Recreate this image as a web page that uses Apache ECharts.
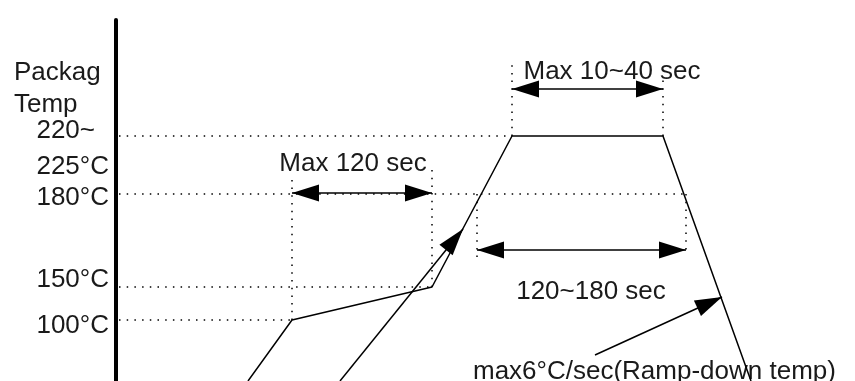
<!DOCTYPE html>
<html>
<head>
<meta charset="utf-8">
<script src="https://cdn.jsdelivr.net/npm/echarts@6/dist/echarts.min.js"></script>
<style>
html, body { margin: 0; padding: 0; background: #fff; }
#chart_1 { width: 855px; height: 381px; }
</style>
</head>
<body>
<div id="chart_1"></div>
<script>
var Chart_1 = echarts.init(document.getElementById('chart_1'));

// reflow profile, schematic units (not to scale)
var profileX = [132, 176, 316, 396, 547, 635];
var profileY = [0, 61, 94, 245, 245, 0];

// temperature levels on the y axis
var tempLevels = [61, 94, 187, 245];
var tempLabels = ['100°C', '150°C', '180°C', '220~\n225°C'];
var levelEndX  = [176, 316, 568, 396];

// vertical dotted guides
var guideX    = [176, 316, 396, 547, 361, 570];
var guideFrom = [61, 94, 245, 245, 187, 187];
var guideTo   = [204, 211, 316, 301, 124, 126];

// double arrows (time spans)
var spanFrom = [176, 396, 361];
var spanTo   = [316, 547, 570];
var spanY    = [188, 292, 131];

// single arrows
var pointerFrom = [[224, 0], [479, 26], [-24, 324]];
var pointerTo   = [[347, 152], [606, 84], [-24, 371]];

// free texts
var notes  = ['Max 120 sec', 'Max 10~40 sec', '120~180 sec', 'max6°C/sec(Ramp-down temp)', 'Packag\nTemp'];
var notesX = [237, 496, 475, 357, -102];
var notesY = [217, 309, 89, 9, 292];

var font = 'Liberation Sans, Arial, sans-serif';
var textColor = '#1a1a1a';

function head(coord){
    return {
        coord: coord,
        symbol: 'triangle',
        symbolSize: [17, 27],
        symbolOffset: [0, '50%']
    };
}

var profileData = [];
for (var i = 0; i < profileX.length; i++){
    profileData.push([profileX[i], profileY[i]]);
}

var guideLines = [];
for (var i = 0; i < tempLevels.length; i++){
    guideLines.push([{coord: [3, tempLevels[i]]}, {coord: [levelEndX[i], tempLevels[i]]}]);
}
for (var i = 0; i < guideX.length; i++){
    guideLines.push([{coord: [guideX[i], guideFrom[i]]}, {coord: [guideX[i], guideTo[i]]}]);
}

var arrowLines = [];
for (var i = 0; i < spanY.length; i++){
    arrowLines.push([head([spanFrom[i], spanY[i]]), head([spanTo[i], spanY[i]])]);
}
for (var i = 0; i < pointerFrom.length; i++){
    arrowLines.push([{coord: pointerFrom[i]}, head(pointerTo[i])]);
}

var noteData = [];
for (var i = 0; i < notes.length; i++){
    noteData.push({
        value: [notesX[i], notesY[i]],
        label: {
            formatter: notes[i],
            align: i >= 3 ? 'left' : 'center'
        }
    });
}

// axis label rich keys shift the text a little off its level
var labelKey = ['dn6', 'up8', 'dn4', ''];

var option = {
    animation: false,
    backgroundColor: '#fff',
    grid: {
        left: 116,
        right: 0,
        top: 20,
        bottom: 0,
        containLabel: false,
        outerBoundsMode: 'none'
    },
    xAxis: {
        type: 'value',
        min: 0,
        max: 739,
        show: false
    },
    yAxis: {
        type: 'value',
        min: 0,
        max: 361,
        axisLine: {
            show: true,
            onZero: false,
            lineStyle: { color: '#000', width: 4 }
        },
        axisTick: { show: false },
        splitLine: { show: false },
        axisLabel: {
            customValues: tempLevels,
            margin: 7,
            color: textColor,
            fontSize: 26,
            fontFamily: font,
            formatter: function(value){
                var idx = tempLevels.indexOf(value);
                if (idx === 3){
                    return '{p|220~}\n{q|225°C}';
                }
                return '{' + labelKey[idx] + '|' + tempLabels[idx] + '}';
            },
            rich: {
                dn6: { fontSize: 26, fontFamily: font, color: textColor, padding: [12, 0, 0, 0] },
                up8: { fontSize: 26, fontFamily: font, color: textColor, padding: [0, 0, 15, 0] },
                dn4: { fontSize: 26, fontFamily: font, color: textColor, padding: [8, 0, 0, 0] },
                p:   { fontSize: 26, fontFamily: font, color: textColor, padding: [26, 0, 0, 0], align: 'left' },
                q:   { fontSize: 26, fontFamily: font, color: textColor, padding: [10, 0, 0, 0] }
            }
        }
    },
    series: [
        {
            name: 'profile',
            type: 'line',
            data: profileData,
            symbol: 'none',
            clip: false,
            silent: true,
            z: 3,
            lineStyle: { color: '#000', width: 1.5 },
            markLine: {
                silent: true,
                symbol: ['none', 'none'],
                label: { show: false },
                lineStyle: { color: '#000', width: 1.5, type: [1.5, 6.2] },
                data: guideLines
            }
        },
        {
            name: 'arrows',
            type: 'line',
            data: [],
            clip: false,
            silent: true,
            z: 4,
            markLine: {
                silent: true,
                symbol: ['none', 'none'],
                label: { show: false },
                lineStyle: { color: '#000', width: 1.5, type: 'solid' },
                itemStyle: { color: '#000' },
                data: arrowLines
            }
        },
        {
            name: 'notes',
            type: 'scatter',
            data: noteData,
            symbolSize: 0,
            clip: false,
            silent: true,
            itemStyle: { opacity: 1, color: '#000' },
            label: {
                show: true,
                position: 'inside',
                color: textColor,
                opacity: 1,
                fontSize: 26,
                fontFamily: font,
                lineHeight: 32
            }
        }
    ]
};

Chart_1.setOption(option);
</script>
</body>
</html>
